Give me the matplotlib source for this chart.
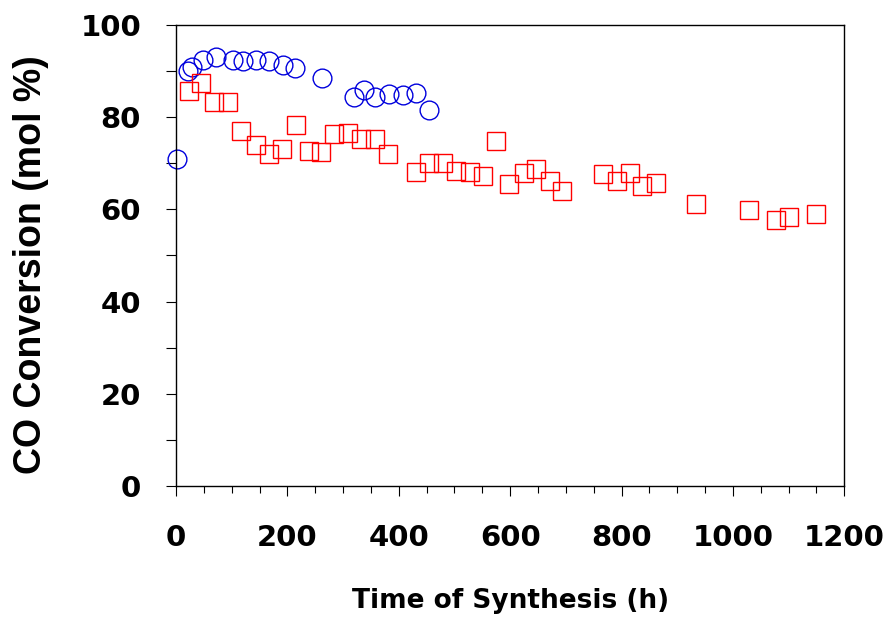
import numpy as np
import matplotlib
matplotlib.use("Agg")
import matplotlib.pyplot as plt
from matplotlib.ticker import MultipleLocator

# catalyst 1 (blue circles)
t_blue = [2, 22, 28, 48, 72, 102, 121, 143, 167, 192, 214, 263,
          320, 338, 357, 383, 407, 431, 455]
co_blue = [71.0, 90.1, 90.9, 92.3, 93.0, 92.5, 92.2, 92.5, 92.2, 91.4, 90.7, 88.6,
           84.4, 85.8, 84.4, 85.1, 84.9, 85.2, 81.6]

# catalyst 2 (red squares)
t_red = [24, 45, 68, 94, 116, 143, 167, 191, 215, 239, 260, 284, 309, 333,
         357, 381, 431, 455, 480, 503, 527, 551, 575, 598, 624, 646, 672,
         694, 766, 791, 815, 836, 862, 934, 1029, 1077, 1101, 1150]
co_red = [85.7, 87.4, 83.3, 83.3, 77.0, 73.9, 72.1, 73.2, 78.4, 72.6, 72.4, 76.4,
          76.6, 75.3, 75.2, 72.1, 68.1, 70.1, 70.1, 68.3, 68.1, 67.2, 74.8, 65.6,
          67.9, 68.7, 66.2, 64.0, 67.6, 66.2, 67.9, 65.0, 65.7, 61.1, 59.8, 57.8,
          58.4, 58.9]

fig = plt.figure(figsize=(8.89, 6.23), dpi=100)
ax = fig.add_axes([0.198, 0.2199, 0.7517, 0.74])

ax.plot(t_blue, co_blue, linestyle='none', marker='o', markersize=13.5,
        markerfacecolor='none', markeredgecolor='#0000dd', markeredgewidth=1.0,
        clip_on=False)
ax.plot(t_red, co_red, linestyle='none', marker='s', markersize=13.5,
        markerfacecolor='none', markeredgecolor='#ff0000', markeredgewidth=1.0,
        clip_on=False)

ax.set_xlim(0, 1200)
ax.set_ylim(0, 100)
ax.xaxis.set_major_locator(MultipleLocator(200))
ax.xaxis.set_minor_locator(MultipleLocator(50))
ax.yaxis.set_major_locator(MultipleLocator(20))
ax.yaxis.set_minor_locator(MultipleLocator(10))

for s in ax.spines.values():
    s.set_linewidth(1.0)
    s.set_color('black')

ax.tick_params(axis='x', which='major', direction='out', length=7.2, width=0.8, pad=20)
ax.tick_params(axis='x', which='minor', direction='out', length=5, width=0.8)
ax.tick_params(axis='y', which='both', direction='out', length=7.2, width=0.8, pad=18)

tick_font = dict(family='DejaVu Sans', weight='bold', size=21)
for lab in ax.get_xticklabels() + ax.get_yticklabels():
    lab.set_fontfamily(tick_font['family'])
    lab.set_fontweight(tick_font['weight'])
    lab.set_fontsize(tick_font['size'])

ax.set_xlabel('Time of Synthesis (h)', family='DejaVu Sans', weight='bold',
              fontsize=19, va='top')
ax.xaxis.set_label_coords(0.5, -0.222)
ax.set_ylabel('CO Conversion (mol %)', family='Liberation Sans', weight='bold',
              fontsize=27, va='center')
ax.yaxis.set_label_coords(-0.217, 0.48)

fig.savefig('out.png', dpi=100)
